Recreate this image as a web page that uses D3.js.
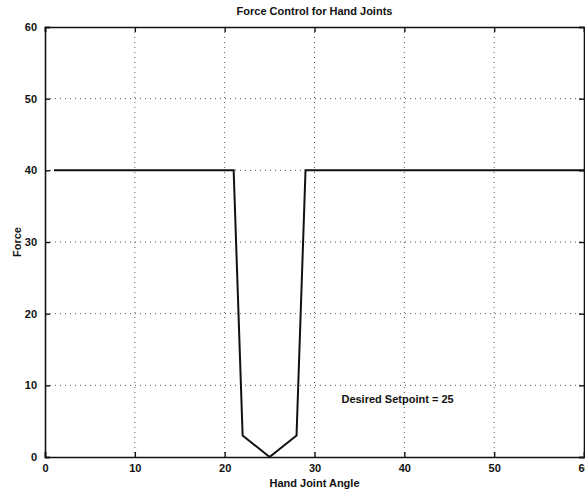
<!DOCTYPE html>
<html>
<head>
<meta charset="utf-8">
<script src="https://cdn.jsdelivr.net/npm/d3@7.9.0/dist/d3.min.js"></script>
<style>
  body { margin: 0; background: #fff; }
  svg text { font-family: "Liberation Sans", Arial, sans-serif; fill: #111; }
</style>
</head>
<body>
<svg id="chart" width="585" height="491"></svg>
<script>
// force profile around the setpoint
const angle = [1, 21, 22, 25, 28, 29, 60];
const force = [40, 40, 3, 0, 3, 40, 40];
const xTicks = [0, 10, 20, 30, 40, 50, 60];
const yTicks = [0, 10, 20, 30, 40, 50, 60];
const title = "Force Control for Hand Joints";
const note = { x: 33, y: 7.5, text: "Desired Setpoint = 25" };

const margin = { top: 27, right: 1, bottom: 34, left: 45 };
const width = 585 - margin.left - margin.right;
const height = 491 - margin.top - margin.bottom;

const svg = d3.select("#chart");
const g = svg.append("g").attr("transform", `translate(${margin.left},${margin.top})`);

const x = d3.scaleLinear().domain([0, 60]).range([0, width]);
const y = d3.scaleLinear().domain([0, 60]).range([height, 0]);

// dotted grid
g.selectAll(".vgrid")
  .data(xTicks.slice(1, -1))
  .enter()
  .append("line")
  .attr("x1", (d) => x(d)).attr("x2", (d) => x(d))
  .attr("y1", 0).attr("y2", height)
  .attr("stroke", "#555").attr("stroke-width", 1)
  .attr("stroke-dasharray", "1,4");

g.selectAll(".hgrid")
  .data(yTicks.slice(1, -1))
  .enter()
  .append("line")
  .attr("x1", 0).attr("x2", width)
  .attr("y1", (d) => y(d)).attr("y2", (d) => y(d))
  .attr("stroke", "#555").attr("stroke-width", 1)
  .attr("stroke-dasharray", "1,4");

// axes with inward ticks
const fmt = d3.format("d");
const xAxis = g.append("g").attr("transform", `translate(0,${height})`)
  .call(d3.axisBottom(x).tickValues(xTicks).tickSize(-5).tickPadding(9).tickFormat(fmt));
const xTop = g.append("g")
  .call(d3.axisTop(x).tickValues(xTicks).tickSize(-5).tickFormat(""));
const yAxis = g.append("g")
  .call(d3.axisLeft(y).tickValues(yTicks).tickSize(-5).tickPadding(9).tickFormat(fmt));
const yRight = g.append("g").attr("transform", `translate(${width},0)`)
  .call(d3.axisRight(y).tickValues(yTicks).tickSize(-5).tickFormat(""));

[xAxis, xTop, yAxis, yRight].forEach((a) => {
  a.select(".domain").attr("stroke", "#111").attr("stroke-width", 1.6);
  a.selectAll(".tick line").attr("stroke", "#111").attr("stroke-width", 1.4);
  a.selectAll(".tick text").attr("font-size", 11).attr("font-weight", "bold");
});
xAxis.selectAll(".tick text").attr("dy", "0.5em");
yAxis.selectAll(".tick text").attr("dx", "0.1em");

// data line
const line = d3.line()
  .x((d, i) => x(angle[i]))
  .y((d) => y(d));

g.append("path")
  .datum(force)
  .attr("d", line)
  .attr("fill", "none")
  .attr("stroke", "#111")
  .attr("stroke-width", 2);

// labels
svg.append("text")
  .attr("x", margin.left + width / 2).attr("y", 15)
  .attr("text-anchor", "middle")
  .attr("font-size", 11).attr("font-weight", "bold")
  .text(title);

svg.append("text")
  .attr("x", margin.left + width / 2).attr("y", 487)
  .attr("text-anchor", "middle")
  .attr("font-size", 11).attr("font-weight", "bold")
  .text("Hand Joint Angle");

svg.append("text")
  .attr("transform", `translate(21,${margin.top + height / 2}) rotate(-90)`)
  .attr("text-anchor", "middle")
  .attr("font-size", 11).attr("font-weight", "bold")
  .text("Force");

g.append("text")
  .attr("x", x(note.x)).attr("y", y(note.y))
  .attr("font-size", 11).attr("font-weight", "bold")
  .text(note.text);
</script>
</body>
</html>
